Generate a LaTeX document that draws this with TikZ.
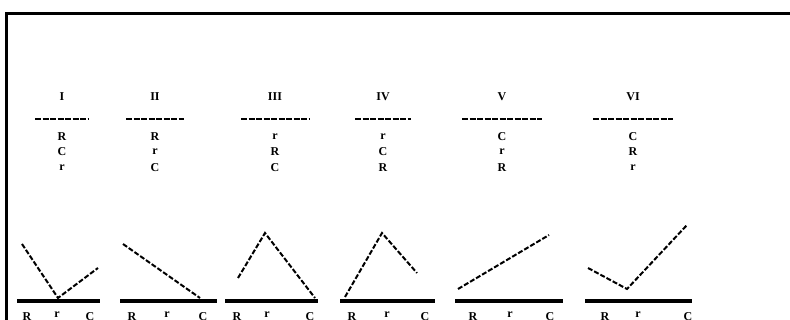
\documentclass[tikz,border=0pt]{standalone}
\usepackage{fontspec}
\setmainfont{Liberation Serif}
\begin{document}
\begin{tikzpicture}[x=1pt,y=-1pt,
  lbl/.style={font=\bfseries\fontsize{12}{14}\selectfont,inner sep=0pt},
  rule/.style={line width=1.5pt,dash pattern=on 6pt off 1.5pt},
  axisline/.style={line width=4pt},
  curve/.style={line width=2pt,dash pattern=on 5pt off 2pt},
  framel/.style={line width=3pt}]
\useasboundingbox (0,0) rectangle (790,320);
\fill[white] (0,0) rectangle (790,320);
\draw[framel] (6.5,330) -- (6.5,13.5) -- (800,13.5);
% column headers
\foreach \n/\x/\a/\b/\c/\w in {I/62/R/C/r/27, II/155/R/r/C/29, III/275/r/R/C/34, IV/383/r/C/R/28, V/502/C/r/R/40, VI/633/C/R/r/40}{
  \node[lbl] (h\n) at (\x,97) {\n};
  \draw[rule] (\x-\w,119) -- (\x+\w,119);
  \node[lbl] (a\n) at (\x,137) {\a};
  \node[lbl] (b\n) at (\x,152) {\b};
  \node[lbl] (c\n) at (\x,168) {\c};
}
% axes
\foreach \i/\l/\r/\p/\q/\s in {1/17/100/27/57/90, 2/120/217/132/167/203, 3/225/318/237/267/310, 4/340/435/352/387/425, 5/455/563/473/510/550, 6/585/692/605/638/688}{
  \draw[axisline] (\l,301) -- (\r,301);
  \node[lbl,anchor=north] (xl\i) at (\p,312) {R};
  \node[lbl,anchor=north] (xm\i) at (\q,312) {r};
  \node[lbl,anchor=north] (xr\i) at (\s,312) {C};
}
% curves
\draw[curve] (22,244) -- (58,298) -- (98,268);
\draw[curve] (123,244) -- (200,298);
\draw[curve] (238,278) -- (265,233) -- (315,298);
\draw[curve] (345,297) -- (382,233) -- (417,273);
\draw[curve] (458,289) -- (549,235);
\draw[curve] (588,268) -- (627,289) -- (687,225);
\end{tikzpicture}
\end{document}
